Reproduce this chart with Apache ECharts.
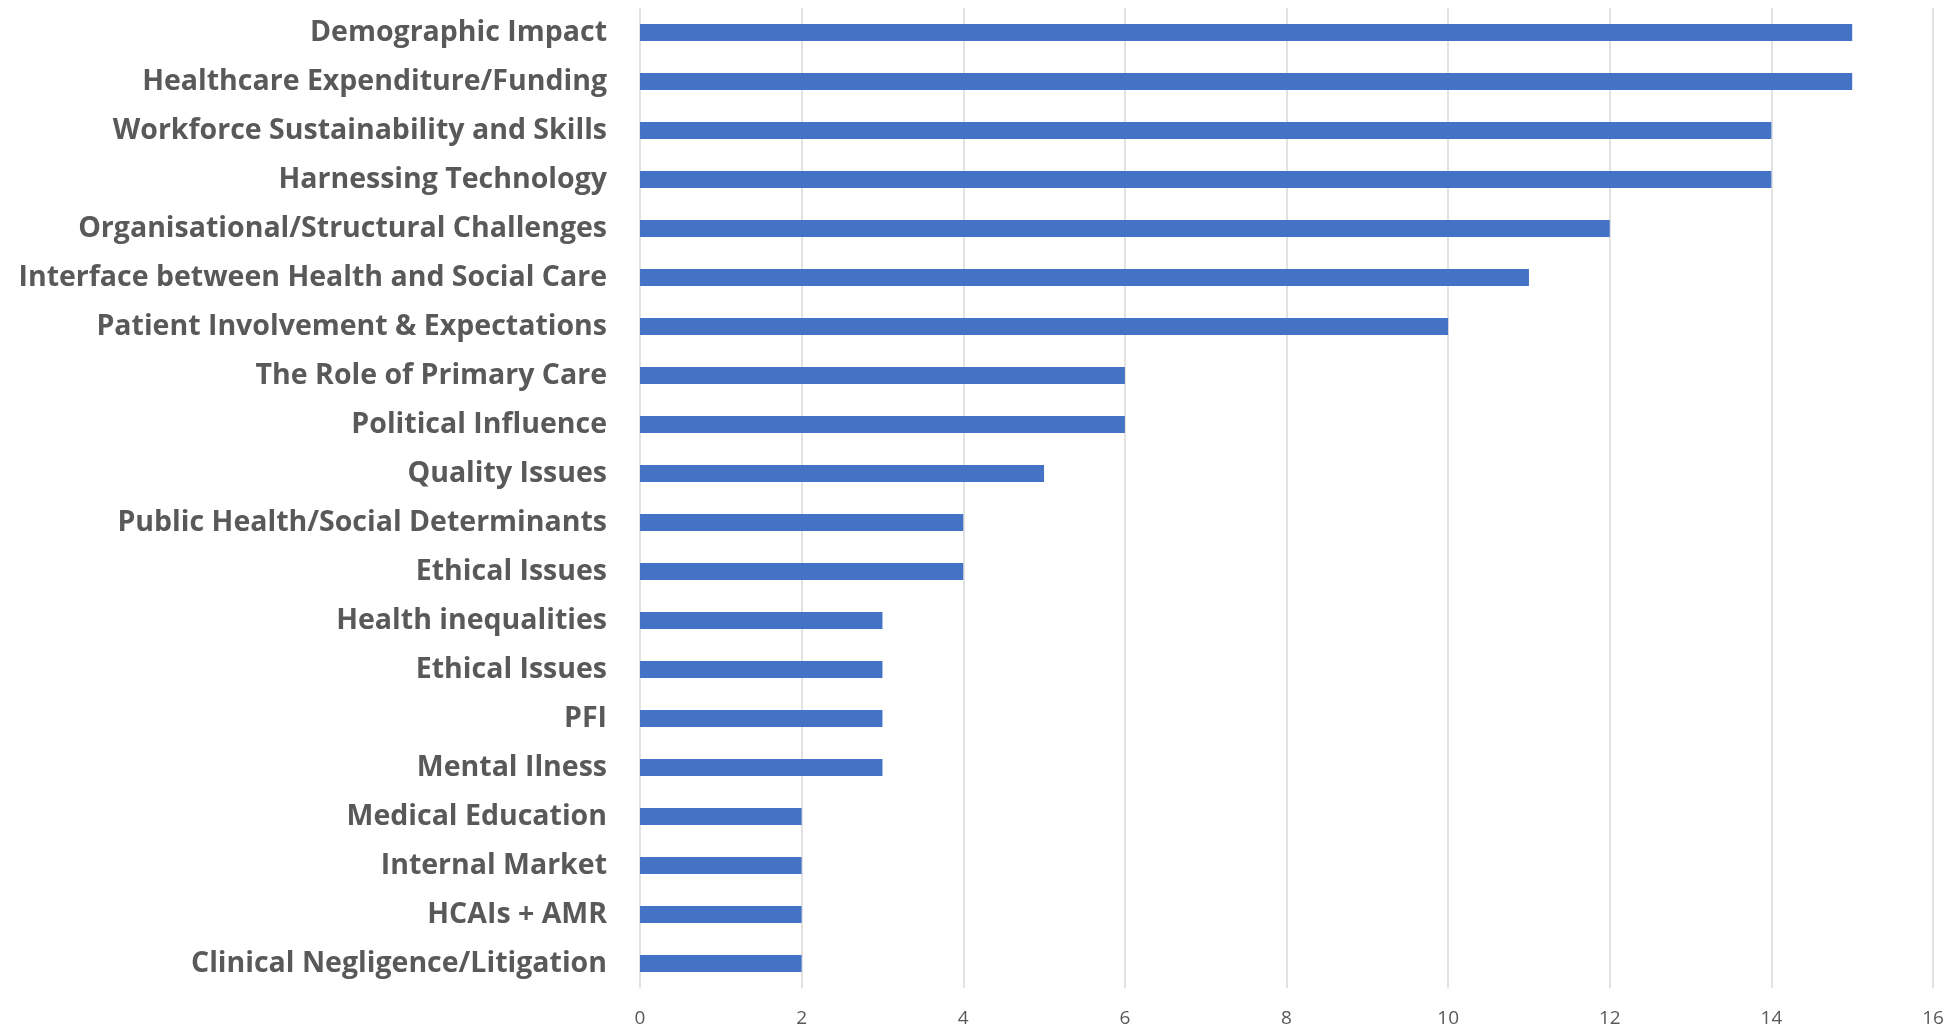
<!DOCTYPE html>
<html><head><meta charset="utf-8">
<script src="https://cdn.jsdelivr.net/npm/echarts@6/dist/echarts.min.js"></script>
<style>html,body{margin:0;padding:0;background:#fff}#c{width:1956px;height:1029px}</style>
</head><body><div id="c"></div>
<script>
const categories = ["Demographic Impact","Healthcare Expenditure/Funding","Workforce Sustainability and Skills","Harnessing Technology","Organisational/Structural Challenges","Interface between Health and Social Care","Patient Involvement & Expectations","The Role of Primary Care","Political Influence","Quality Issues","Public Health/Social Determinants","Ethical Issues","Health inequalities","Ethical Issues","PFI","Mental Ilness","Medical Education","Internal Market","HCAIs + AMR","Clinical Negligence/Litigation"];
const values = [15,15,14,14,12,11,10,6,6,5,4,4,3,3,3,3,2,2,2,2];
const xTicks = {min:0, max:16, interval:2};

const chart = echarts.init(document.getElementById('c'));
chart.setOption({
  animation:false,
  grid:{left:640,right:23,top:8,bottom:41,containLabel:false},
  xAxis:{type:'value',min:xTicks.min,max:xTicks.max,interval:xTicks.interval,
    axisLine:{show:false},axisTick:{show:false},
    axisLabel:{color:'#595959',fontSize:19,fontFamily:'Open Sans',margin:21},
    splitLine:{show:true,lineStyle:{color:'#d9d9d9',width:1.5}}},
  yAxis:{type:'category',data:categories,inverse:true,
    axisLine:{show:false},axisTick:{show:false},
    axisLabel:{color:'#595959',fontSize:28.5,fontWeight:'bold',fontFamily:'Open Sans',margin:33}},
  series:[{type:'bar',data:values,barWidth:17,itemStyle:{color:'#4472C4'}}]
});
</script></body></html>
